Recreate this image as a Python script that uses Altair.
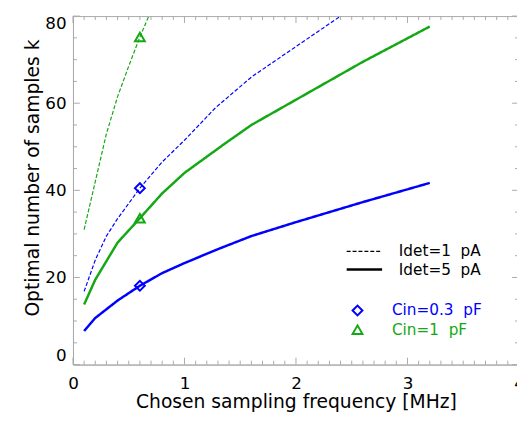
import altair as alt
import pandas as pd

# ---- data ----
cin_labels = ["Cin=0.3\u00a0\u00a0pF", "Cin=1\u00a0\u00a0pF"]
idet_labels = ["Idet=1\u00a0\u00a0pA", "Idet=5\u00a0\u00a0pA"]

# Cin=0.3 pF, Idet=1 pA (blue dashed)
freq_b_dash = [0.1, 0.2, 0.3, 0.4, 0.6, 0.8, 1.0, 1.28, 1.6, 2.0, 2.4]
k_b_dash = [16.8, 24.0, 29.5, 33.5, 40.5, 46.5, 51.5, 59.0, 66.0, 73.0, 80.0]
# Cin=0.3 pF, Idet=5 pA (blue solid)
freq_b_solid = [0.1, 0.2, 0.4, 0.6, 0.8, 1.0, 1.3, 1.6, 2.0, 2.6, 3.2]
k_b_solid = [7.7, 10.7, 14.7, 18.1, 21.0, 23.3, 26.5, 29.5, 32.7, 37.3, 41.7]
# Cin=1 pF, Idet=1 pA (green dashed)
freq_g_dash = [0.1, 0.2, 0.3, 0.4, 0.5, 0.6, 0.68]
k_g_dash = [31.0, 42.0, 53.0, 61.5, 68.5, 75.2, 80.0]
# Cin=1 pF, Idet=5 pA (green solid)
freq_g_solid = [0.1, 0.2, 0.4, 0.6, 0.8, 1.0, 1.35, 1.6, 2.0, 2.6, 3.2]
k_g_solid = [13.8, 19.5, 28.0, 33.6, 39.3, 44.0, 50.5, 55.0, 60.8, 69.5, 77.6]

# markers at the chosen frequency
marker_freq = [0.6, 0.6, 0.6, 0.6]
marker_k = [18.1, 40.5, 33.6, 75.2]
marker_cin = [cin_labels[0], cin_labels[0], cin_labels[1], cin_labels[1]]

# axis ticks
x_major = [0, 1, 2, 3, 4]
x_minor = [round(i * 0.1, 1) for i in range(41) if i % 10 != 0]
y_major = [0, 20, 40, 60, 80]
y_minor = [v for v in range(0, 81, 5) if v % 20 != 0]

BLUE = "#0000ff"
GREEN = "#14a814"
GRAY = "#aaaaaa"
FONT = "DejaVu Sans"
W, H = 453, 354

rows = []
for name, cin, idet, xs, ys in [
    ("b_dash", cin_labels[0], idet_labels[0], freq_b_dash, k_b_dash),
    ("b_solid", cin_labels[0], idet_labels[1], freq_b_solid, k_b_solid),
    ("g_dash", cin_labels[1], idet_labels[0], freq_g_dash, k_g_dash),
    ("g_solid", cin_labels[1], idet_labels[1], freq_g_solid, k_g_solid),
]:
    for i, (xv, yv) in enumerate(zip(xs, ys)):
        rows.append({"series": name, "cin": cin, "idet": idet, "x": xv, "y": yv, "i": i})
df = pd.DataFrame(rows)
mk = pd.DataFrame({"x": marker_freq, "y": marker_k, "cin": marker_cin})

xscale = alt.Scale(domain=[0, 4], nice=False, zero=False)
yscale = alt.Scale(domain=[0, 80], nice=False, zero=False)

xaxis = alt.Axis(values=x_major, format="d", ticks=False, grid=False,
                 domainColor=GRAY, labelFont=FONT, labelFontSize=17,
                 labelColor="black", labelPadding=11, labelFlush=False,
                 title="Chosen sampling frequency [MHz]", titleFont=FONT,
                 titleFontSize=19, titleFontWeight="normal",
                 titleColor="black", titlePadding=2)
yaxis = alt.Axis(values=y_major, format="d", ticks=False, grid=False,
                 domainColor=GRAY, labelFont=FONT, labelFontSize=17,
                 labelColor="black", labelPadding=7, labelFlush=True,
                 title="Optimal number of samples k", titleFont=FONT,
                 titleFontSize=19, titleFontWeight="normal",
                 titleColor="black", titlePadding=2, titleY=164)

leg_dash = alt.Legend(orient="none", legendX=288.25, legendY=231.25, title=None,
                      padding=0, rowPadding=1.5, labelFont=FONT, labelFontSize=15.5,
                      labelColor="black", labelOffset=27.25,
                      symbolType="M-3,0L3,0", symbolSize=144,
                      symbolStrokeColor="black", symbolFillColor="transparent")

leg_cin = alt.Legend(orient="none", legendX=281.25, legendY=291.25, title=None,
                     padding=0, rowPadding=1.5, labelFont=FONT, labelFontSize=15.5,
                     labelOffset=27.25, symbolSize=100, symbolStrokeWidth=2,
                     labelColor={"expr": f"indexof(datum.label, '0.3') >= 0 ? '{BLUE}' : '{GREEN}'"})

# line stroke scale: same mapping, listed in the other order so that its
# (hidden) legend is not merged with the marker legend
lines = alt.Chart(df).mark_line().encode(
    x=alt.X("x:Q", scale=xscale, axis=xaxis),
    y=alt.Y("y:Q", scale=yscale, axis=yaxis),
    stroke=alt.Stroke("cin:N", scale=alt.Scale(domain=cin_labels[::-1], range=[GREEN, BLUE]), legend=None),
    strokeDash=alt.StrokeDash("idet:N", scale=alt.Scale(domain=idet_labels, range=[[4, 2], [1, 0]]), legend=leg_dash),
    strokeWidth=alt.StrokeWidth("idet:N", scale=alt.Scale(domain=idet_labels, range=[1.2, 2.5]), legend=leg_dash),
    detail="series:N",
    order="i:Q",
)

points = alt.Chart(mk).mark_point(filled=False, size=100, strokeWidth=2, opacity=1).encode(
    x=alt.X("x:Q", scale=xscale, axis=xaxis),
    y=alt.Y("y:Q", scale=yscale, axis=yaxis),
    color=alt.Color("cin:N", scale=alt.Scale(domain=cin_labels, range=[BLUE, GREEN]), legend=leg_cin),
    shape=alt.Shape("cin:N", scale=alt.Scale(domain=cin_labels, range=["diamond", "triangle-up"]), legend=leg_cin),
)

def xticks(vals, y0, y1):
    return alt.Chart(pd.DataFrame({"v": vals})).mark_rule(color=GRAY, strokeWidth=1).encode(
        x=alt.X("v:Q", scale=xscale, axis=xaxis), y=alt.value(y0), y2=alt.value(y1))

def yticks(vals, x0, x1):
    return alt.Chart(pd.DataFrame({"v": vals})).mark_rule(color=GRAY, strokeWidth=1).encode(
        y=alt.Y("v:Q", scale=yscale, axis=yaxis), x=alt.value(x0), x2=alt.value(x1))

MAJ, MIN = 7, 4
ticks = [
    xticks(x_major, H, H - MAJ), xticks(x_minor, H, H - MIN),
    xticks(x_major, 0, MAJ), xticks(x_minor, 0, MIN),
    yticks(y_major, 0, MAJ), yticks(y_minor, 0, MIN),
    yticks(y_major, W, W - MAJ), yticks(y_minor, W, W - MIN),
]

chart = alt.layer(*ticks, lines, points).properties(
    width=W, height=H,
    autosize=alt.AutoSizeParams(type="none"),
    padding={"left": 66, "top": 5, "right": -2, "bottom": 48},
    background="white",
).configure_view(stroke=GRAY, strokeWidth=1)

chart.save("out.html", embed_options={"renderer": "svg", "actions": False})
